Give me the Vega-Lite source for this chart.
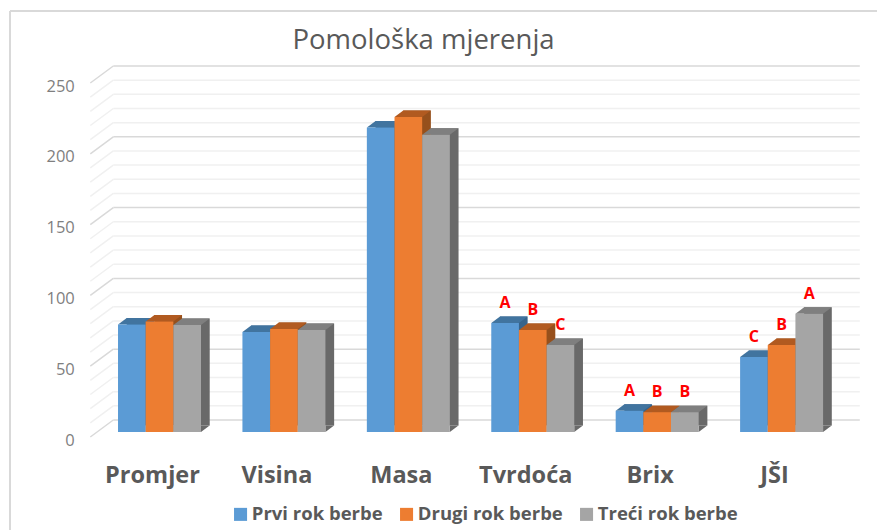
{
"$schema":"https://vega.github.io/schema/vega-lite/v6.json",
"width":746.5,"height":354,"autosize":"none","padding":{"left":97.3,"top":78,"right":33.2,"bottom":98},
"background":"white",
"config":{"view":{"stroke":null},"font":"Open Sans"},
"title":{"text":"Pomološka mjerenja","font":"Open Sans","fontSize":27.5,"fontWeight":"normal","color":"#595959","anchor":"middle","frame":"group","dx":-47,"offset":-44},
"datasets":{
"bars":[
{"kategorija":"Promjer","rok":"Prvi rok berbe","vrijednost":76,"slovo":""},
{"kategorija":"Promjer","rok":"Drugi rok berbe","vrijednost":78,"slovo":""},
{"kategorija":"Promjer","rok":"Treći rok berbe","vrijednost":75.5,"slovo":""},
{"kategorija":"Visina","rok":"Prvi rok berbe","vrijednost":70.6,"slovo":""},
{"kategorija":"Visina","rok":"Drugi rok berbe","vrijednost":72.7,"slovo":""},
{"kategorija":"Visina","rok":"Treći rok berbe","vrijednost":72,"slovo":""},
{"kategorija":"Masa","rok":"Prvi rok berbe","vrijednost":215,"slovo":""},
{"kategorija":"Masa","rok":"Drugi rok berbe","vrijednost":222.5,"slovo":""},
{"kategorija":"Masa","rok":"Treći rok berbe","vrijednost":210,"slovo":""},
{"kategorija":"Tvrdoća","rok":"Prvi rok berbe","vrijednost":77,"slovo":"A"},
{"kategorija":"Tvrdoća","rok":"Drugi rok berbe","vrijednost":72,"slovo":"B"},
{"kategorija":"Tvrdoća","rok":"Treći rok berbe","vrijednost":61.5,"slovo":"C"},
{"kategorija":"Brix","rok":"Prvi rok berbe","vrijednost":15,"slovo":"A"},
{"kategorija":"Brix","rok":"Drugi rok berbe","vrijednost":14,"slovo":"B"},
{"kategorija":"Brix","rok":"Treći rok berbe","vrijednost":14,"slovo":"B"},
{"kategorija":"JŠI","rok":"Prvi rok berbe","vrijednost":53,"slovo":"C"},
{"kategorija":"JŠI","rok":"Drugi rok berbe","vrijednost":61.5,"slovo":"B"},
{"kategorija":"JŠI","rok":"Treći rok berbe","vrijednost":83.5,"slovo":"A"}
],
"mreza":[{"v":0},{"v":10},{"v":20},{"v":30},{"v":40},{"v":50},{"v":60},{"v":70},{"v":80},{"v":90},{"v":100},{"v":110},{"v":120},{"v":130},{"v":140},{"v":150},{"v":160},{"v":170},{"v":180},{"v":190},{"v":200},{"v":210},{"v":220},{"v":230},{"v":240},{"v":250}]
},
"resolve":{"scale":{"xOffset":"independent"}},
"layer":[
{"data":{"values":[{"a":1}]},"mark":{"type":"rule","stroke":"#d9d9d9","strokeWidth":2,"clip":false},"encoding":{"x":{"value":-87.3},"x2":{"value":780},"y":{"value":-67},"y2":{"value":-67}}},
{"data":{"values":[{"a":1}]},"mark":{"type":"rule","stroke":"#d9d9d9","strokeWidth":2,"clip":false},"encoding":{"x":{"value":-87.3},"x2":{"value":-87.3},"y":{"value":-67},"y2":{"value":452}}},
{"data":{"name":"mreza"},
 "mark":{"type":"rule","strokeWidth":1.5,"xOffset":16,"x2Offset":16,"yOffset":-12,"y2Offset":-12,"clip":false},
 "encoding":{"y":{"field":"v","type":"quantitative","scale":{"domain":[0,250],"nice":false},"axis":{"values":[0,50,100,150,200,250],"title":null,"domain":false,"ticks":false,"grid":false,"labelOffset":8,"labelPadding":23,"labelFontSize":16.5,"labelColor":"#7f7f7f","labelFont":"Open Sans"}},
 "x":{"value":0},"x2":{"value":746.5},
 "stroke":{"condition":{"test":"datum.v % 50 === 0","value":"#d9d9d9"},"value":"#f0f0f0"}}},
{"data":{"name":"mreza"},
 "mark":{"type":"rule","strokeWidth":1.5,"xOffset":-7,"x2Offset":16,"yOffset":5,"y2Offset":-12},
 "encoding":{"y":{"field":"v","type":"quantitative"},"y2":{"field":"v"},
 "x":{"value":0},"x2":{"value":0},
 "stroke":{"condition":{"test":"datum.v % 50 === 0","value":"#d9d9d9"},"value":"#f0f0f0"}}},
{"data":{"name":"bars"},
 "resolve":{"scale":{"xOffset":"independent"}},
 "encoding":{
  "x":{"field":"kategorija","type":"nominal","sort":null,"scale":{"domain":["Promjer","Visina","Masa","Tvrdoća","Brix","JŠI"],"paddingInner":0.333,"paddingOuter":0.1665},"axis":{"title":null,"domain":false,"ticks":false,"labelAngle":0,"labelOffset":-7,"labelPadding":31,"labelFontSize":23.5,"labelFontWeight":"bold","labelColor":"#595959","labelFont":"Open Sans"}},
  "xOffset":{"field":"rok","type":"nominal","sort":null,"scale":{"domain":["Prvi rok berbe","Drugi rok berbe","Treći rok berbe"]}},
  "y":{"field":"vrijednost","type":"quantitative"}},
 "layer":[
 {"transform":[{"filter":"datum.rok === 'Prvi rok berbe'"}],"resolve":{"scale":{"xOffset":"independent"}},"layer":[
  {"mark":{"type":"bar","fill":"#37648c","yOffset":-6.5,"y2Offset":-6.5},"encoding":{"xOffset":{"field":"rok","type":"nominal","sort":null,"scale":{"domain":["Prvi rok berbe","Drugi rok berbe","Treći rok berbe"],"range":[8.7,91.7]}}}},
  {"mark":{"type":"point","filled":true,"opacity":1,"fill":"#37648c","size":4,"shape":"M13.8 0L22.5 -6.5L13.8 -6.5Z"},"encoding":{"y":{"datum":0}}},
  {"mark":{"type":"point","filled":true,"opacity":1,"fill":"#41749f","size":4,"shape":"M-13.8 0L13.8 0L22.5 -6.5L-5.1 -6.5Z"}},
  {"mark":{"type":"bar"},"encoding":{"color":{"field":"rok","type":"nominal","scale":{"domain":["Prvi rok berbe","Drugi rok berbe","Treći rok berbe"],"range":["#5b9bd5","#ed7d31","#a5a5a5"]},"legend":{"title":null,"orient":"none","legendX":134,"legendY":427,"direction":"horizontal","columns":3,"symbolType":"square","symbolSize":170,"symbolStrokeWidth":0,"columnPadding":14,"labelOffset":2,"labelFontSize":18.5,"labelFontWeight":"bold","labelColor":"#595959","labelFont":"Open Sans","labelLimit":200}}}}
 ]},
 {"transform":[{"filter":"datum.rok === 'Drugi rok berbe'"}],"resolve":{"scale":{"xOffset":"independent"}},"layer":[
  {"mark":{"type":"bar","fill":"#96501c","yOffset":-6.5,"y2Offset":-6.5},"encoding":{"xOffset":{"field":"rok","type":"nominal","sort":null,"scale":{"domain":["Prvi rok berbe","Drugi rok berbe","Treći rok berbe"],"range":[8.7,91.7]}}}},
  {"mark":{"type":"point","filled":true,"opacity":1,"fill":"#96501c","size":4,"shape":"M13.8 0L22.5 -6.5L13.8 -6.5Z"},"encoding":{"y":{"datum":0}}},
  {"mark":{"type":"point","filled":true,"opacity":1,"fill":"#b15a20","size":4,"shape":"M-13.8 0L13.8 0L22.5 -6.5L-5.1 -6.5Z"}},
  {"mark":{"type":"bar"},"encoding":{"color":{"field":"rok","type":"nominal"}}}
 ]},
 {"transform":[{"filter":"datum.rok === 'Treći rok berbe'"}],"resolve":{"scale":{"xOffset":"independent"}},"layer":[
  {"mark":{"type":"bar","fill":"#696969","yOffset":-6.5,"y2Offset":-6.5},"encoding":{"xOffset":{"field":"rok","type":"nominal","sort":null,"scale":{"domain":["Prvi rok berbe","Drugi rok berbe","Treći rok berbe"],"range":[8.7,91.7]}}}},
  {"mark":{"type":"point","filled":true,"opacity":1,"fill":"#696969","size":4,"shape":"M13.8 0L22.5 -6.5L13.8 -6.5Z"},"encoding":{"y":{"datum":0}}},
  {"mark":{"type":"point","filled":true,"opacity":1,"fill":"#7f7f7f","size":4,"shape":"M-13.8 0L13.8 0L22.5 -6.5L-5.1 -6.5Z"}},
  {"mark":{"type":"bar"},"encoding":{"color":{"field":"rok","type":"nominal"}}}
 ]},
 {"transform":[{"filter":"datum.slovo !== ''"}],
  "mark":{"type":"text","color":"#ff0000","fontWeight":"bold","fontSize":16,"font":"Open Sans","dy":-20,"baseline":"middle"},
  "encoding":{"text":{"field":"slovo","type":"nominal"}}}
 ]}
]
}
